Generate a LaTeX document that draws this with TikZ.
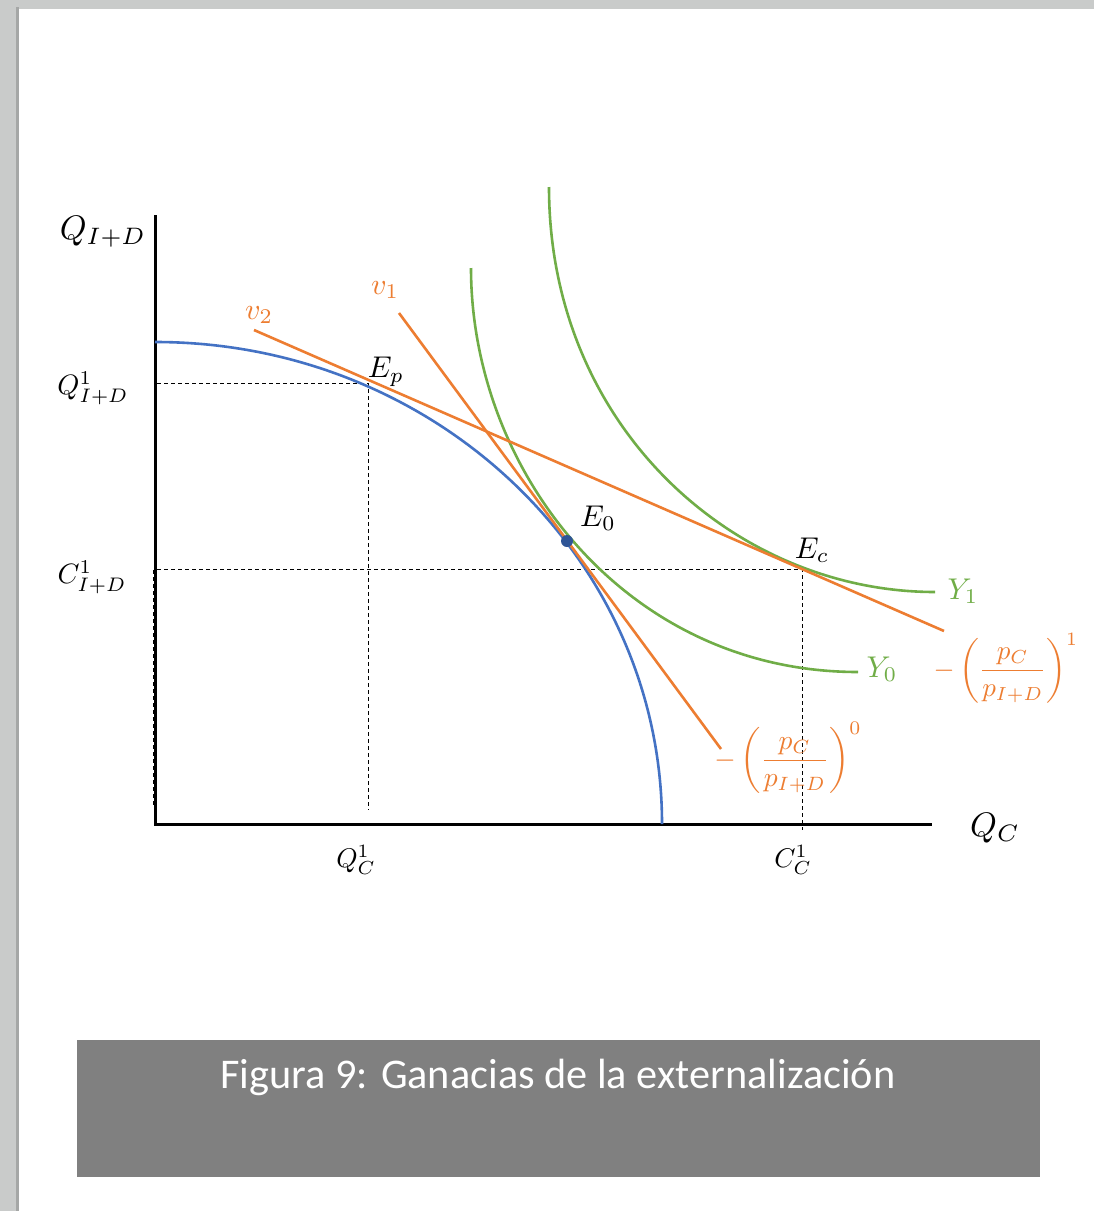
\documentclass[tikz,border=0pt]{standalone}
\usepackage{fontspec}
\usepackage{graphicx}
\newfontfamily\capfont{Carlito}
\newcommand\BigMath[2]{\scalebox{#1}{$#2$}}
\definecolor{pageGray}{HTML}{C9CBCA}
\definecolor{edgeGray}{HTML}{A5A7A6}
\definecolor{ppfBlue}{HTML}{4472C4}
\definecolor{dotBlue}{HTML}{2F5597}
\definecolor{lineOrange}{HTML}{ED7D31}
\definecolor{icGreen}{HTML}{70AD47}
\definecolor{capGray}{HTML}{808080}
\tikzset{
  axisline/.style={line width=3pt,black},
  guide/.style={black,line width=0.9pt,dash pattern=on 4pt off 3pt},
  ppf/.style={ppfBlue,line width=2.6pt},
  priceline/.style={lineOrange,line width=2.6pt},
  indiff/.style={icGreen,line width=2.6pt},
  lab/.style={inner sep=0pt,font=\fontsize{10}{12}\selectfont},
  orlab/.style={lab,text=lineOrange},
  grlab/.style={lab,text=icGreen},
}
\begin{document}
\begin{tikzpicture}[x=1pt,y=-1pt]
% page background
\fill[pageGray] (0,0) rectangle (1094,1211);
\fill[edgeGray] (16,7) rectangle (19,1211);
\fill[white] (19,9) rectangle (1094,1211);
\useasboundingbox (0,0) rectangle (1094,1211);

% key points
\coordinate (O) at (157,824);
\coordinate (ytop) at (155,215);
\coordinate (xend) at (932,824);
\coordinate (ppfTop) at (155,342);
\coordinate (Ep) at (368,383);
\coordinate (E0) at (567,541);
\coordinate (Ec) at (802,569);
\coordinate (yQ) at (157,383);
\coordinate (yC) at (157,569);
\coordinate (xQ) at (368,810);
\coordinate (xC) at (802,830);
\coordinate (v1a) at (399,313);
\coordinate (v1b) at (721,749);
\coordinate (v2a) at (254,330);
\coordinate (v2b) at (944,631);
\coordinate (Y0a) at (471,268);
\coordinate (Y0b) at (858,672);
\coordinate (Y1a) at (549,187);
\coordinate (Y1b) at (935,592);

% dashed guides
\draw[guide] (yQ) -- (Ep) -- (xQ);
\draw[guide] (yC) -- (Ec) -- (xC);
\draw[guide] (153,570) -- (153,805);

% axes
\draw[axisline] (ytop) -- (155,826);
\draw[axisline] (154,824) -- (xend);

% production possibility frontier
\draw[ppf] (ppfTop) arc[start angle=90,end angle=0,x radius=507pt,y radius=482pt];

% indifference curves
\draw[indiff] (Y0a) .. controls (471,470) and (625,672) .. (Y0b);
\draw[indiff] (Y1a) .. controls (549,427) and (735,592) .. (Y1b);

% price lines
\draw[priceline] (v1a) -- (v1b);
\draw[priceline] (v2a) -- (v2b);

% tangency dot
\fill[dotBlue] (E0) circle[radius=6pt];

% axis labels
\node[lab] (lQID) at (103,232) {\BigMath{3.4}{Q_{I+D}}};
\node[lab] (lQC) at (995,828) {\BigMath{3.4}{Q_C}};
\node[lab] (lQ1) at (93,388) {\BigMath{2.8}{Q^1_{I+D}}};
\node[lab] (lC1) at (92,577) {\BigMath{2.8}{C^1_{I+D}}};
\node[lab] (lQc1) at (356,860) {\BigMath{2.7}{Q^1_C}};
\node[lab] (lCc1) at (793,860) {\BigMath{2.7}{C^1_C}};

% point labels
\node[lab] (lEp) at (386,372) {\BigMath{3.0}{E_p}};
\node[lab] (lE0) at (598,518) {\BigMath{3.0}{E_0}};
\node[lab] (lEc) at (812,550) {\BigMath{3.0}{E_c}};

% line and curve labels
\node[orlab] (lv2) at (259,315) {\BigMath{3.0}{v_2}};
\node[orlab] (lv1) at (385,290) {\BigMath{3.0}{v_1}};
\node[grlab] (lY1) at (963,591) {\BigMath{3.0}{Y_1}};
\node[grlab] (lY0) at (882,669) {\BigMath{3.0}{Y_0}};
\node[orlab] (lf1) at (1006,668) {\BigMath{2.7}{-\left(\displaystyle\frac{p_C}{p_{I+D}}\right)^{1}}};
\node[orlab] (lf0) at (788,758) {\BigMath{2.75}{-\left(\displaystyle\frac{p_C}{p_{I+D}}\right)^{0}}};

% caption box
\fill[capGray] (77,1040) rectangle (1040,1177);
\node[inner sep=0pt,text=white,font=\capfont\fontsize{42.3}{48}\selectfont] (cap) at (558,1077) {Figura 9: Ganacias de la externalización};
\end{tikzpicture}
\end{document}
